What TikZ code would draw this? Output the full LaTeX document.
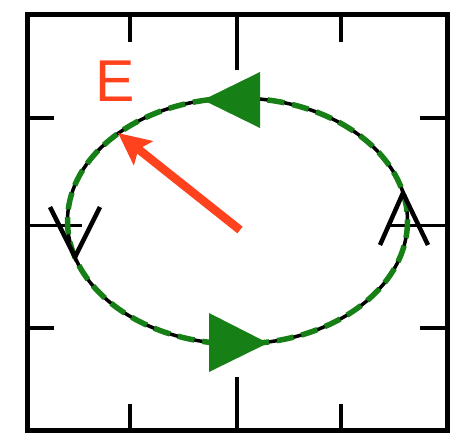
\documentclass[tikz,border=0pt]{standalone}
\usepackage{fontspec}
\setmainfont{Liberation Sans}
\usetikzlibrary{arrows.meta}
\definecolor{orbitgreen}{RGB}{22,128,22}
\definecolor{fieldred}{RGB}{255,66,30}

\begin{document}
\begin{tikzpicture}[x=1pt,y=-1pt]

    \useasboundingbox (0,0) rectangle (468,433);

    % Frame
    \draw[line width=5pt] (27,15) rectangle (447,430);

    % Ticks (top and bottom)
    \foreach \x in {130,341} {
        \draw[line width=4pt] (\x,15) -- (\x,42);
        \draw[line width=4pt] (\x,430) -- (\x,404);
    }
    \draw[line width=4pt] (237,15) -- (237,70);
    \draw[line width=4pt] (237,430) -- (237,377);

    % Ticks (left and right)
    \foreach \y in {118,328} {
        \draw[line width=4pt] (27,\y) -- (54,\y);
        \draw[line width=4pt] (447,\y) -- (420,\y);
    }
    \draw[line width=3pt] (27,225) -- (82,225);
    \draw[line width=3pt] (447,225) -- (390,225);

    % Orbit of the field vector
    \draw[line width=3.5pt] (237.5,221) ellipse (170 and 123);
    \draw[orbitgreen, line width=5.5pt, dash pattern=on 17pt off 8pt] (237.5,221) ellipse (170 and 123);

    % Green arrowheads
    \fill[orbitgreen] (203,100) -- (260,72) -- (260,128) -- cycle;
    \fill[orbitgreen] (268,343) -- (209,313) -- (209,372) -- cycle;

    % Black arrowheads
    \draw[line width=4.5pt] (50,207) -- (75,257) -- (100,207);
    \draw[line width=4.5pt] (380,245) -- (403,193) -- (428,245);

    % Field vector E
    \draw[fieldred, line width=8.5pt, -{Stealth[length=32pt,width=30pt,inset=6pt]}] (240,230) -- (118,133);
    \node[text=fieldred, font=\fontsize{59}{59}\selectfont, anchor=base west, inner sep=0pt] (elabel) at (95,102) {E};

\end{tikzpicture}
\end{document}
